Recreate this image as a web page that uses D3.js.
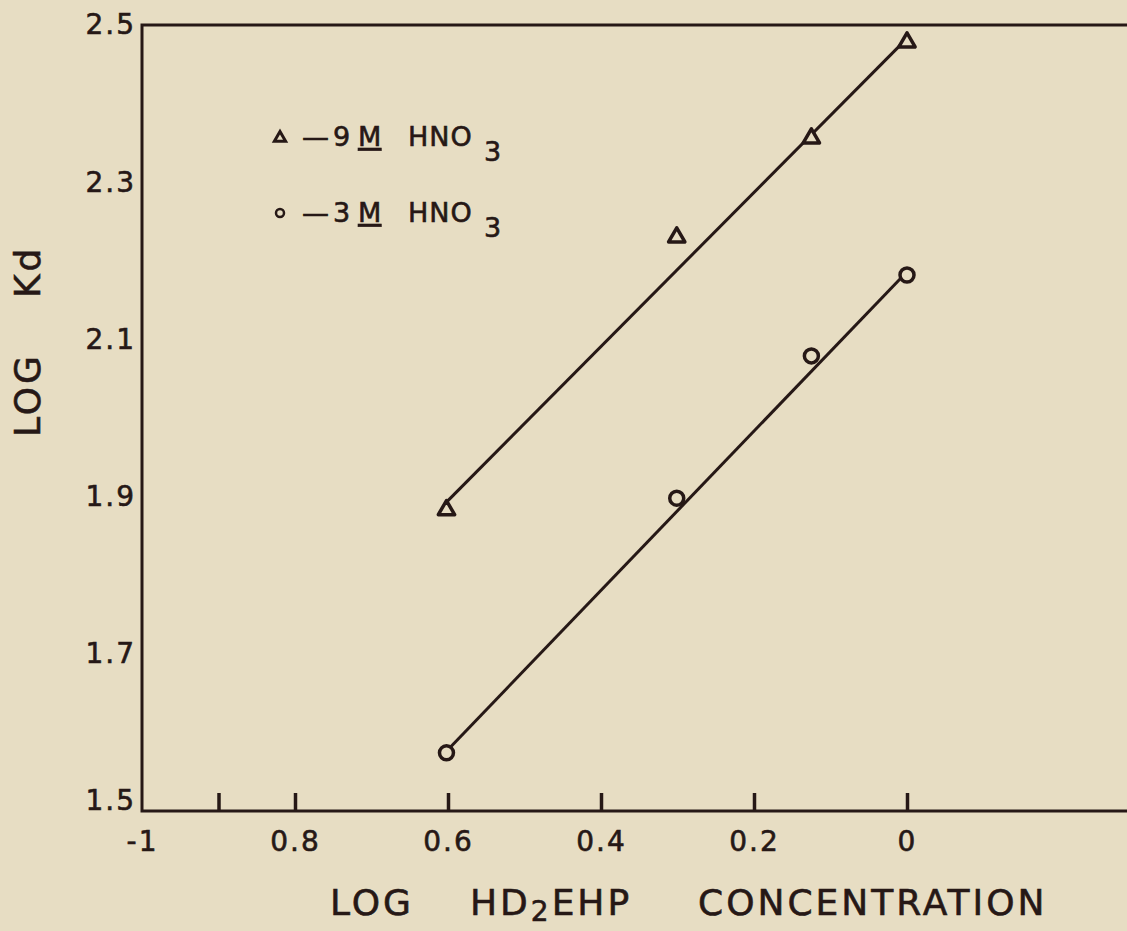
<!DOCTYPE html>
<html>
<head>
<meta charset="utf-8">
<script src="https://cdn.jsdelivr.net/npm/d3@7"></script>
<style>
  body { margin: 0; background: #e7ddc3; }
  text { font-family: "DejaVu Sans", sans-serif; fill: #261816; stroke: #261816; stroke-width: 0.6; }
</style>
</head>
<body>
<script>
const w = 1127;
const h = 931;
const ink = "#261816";
const paper = "#e7ddc3";

// log of HD2EHP concentration (x) and log Kd (y)
const logConc = [-0.602, -0.301, -0.125, 0];
const logKd9M = [1.883, 2.230, 2.356, 2.478];
const logKd3M = [1.574, 1.898, 2.079, 2.182];
// drawn straight lines through each set
const fitX = [-0.602, 0];
const fit9M = [1.893, 2.483];
const fit3M = [1.576, 2.186];

const xTicks = [-1, -0.9, -0.8, -0.6, -0.4, -0.2, 0];
const xTickLabels = ["-1", "", "0.8", "0.6", "0.4", "0.2", "0"];
const yTicks = [1.5, 1.7, 1.9, 2.1, 2.3, 2.5];
const yTickLabels = ["1.5", "1.7", "1.9", "2.1", "2.3", "2.5"];

const xScale = d3.scaleLinear()
                 .domain([-1, 0])
                 .range([142, 907]);

const yScale = d3.scaleLinear()
                 .domain([1.5, 2.5])
                 .range([811, 25]);

const svg = d3.select("body")
              .append("svg")
              .attr("width", w)
              .attr("height", h);

svg.append("rect")
   .attr("width", w)
   .attr("height", h)
   .attr("fill", paper);

// frame: left, bottom and top (right side runs off the page)
const x0 = xScale(-1), xEnd = w + 5;
svg.append("path")
   .attr("d", `M${xEnd},${yScale(2.5)}H${x0}V${yScale(1.5)}H${xEnd}`)
   .attr("fill", "none")
   .attr("stroke", ink)
   .attr("stroke-width", 3);

const xAxis = d3.axisBottom(xScale)
                .tickValues(xTicks)
                .tickSize(-18)
                .tickPadding(20)
                .tickFormat((d, i) => xTickLabels[i]);

const gx = svg.append("g")
   .attr("id", "x-axis")
   .attr("transform", "translate(0," + yScale(1.5) + ")")
   .call(xAxis);
gx.select(".domain").remove();
gx.selectAll(".tick line").attr("stroke", ink).attr("stroke-width", 3.5);
gx.selectAll(".tick").filter(d => d === -1).select("line").remove();
gx.selectAll(".tick text")
  .attr("font-size", 28)
  .attr("letter-spacing", 2)
  .attr("fill", ink)
  .attr("font-family", "DejaVu Sans");

const yAxis = d3.axisLeft(yScale)
                .tickValues(yTicks)
                .tickSize(0)
                .tickPadding(6)
                .tickFormat((d, i) => yTickLabels[i]);

const gy = svg.append("g")
   .attr("id", "y-axis")
   .attr("transform", "translate(" + x0 + ",0)")
   .call(yAxis);
gy.select(".domain").remove();
gy.selectAll(".tick text")
  .attr("font-size", 28)
  .attr("letter-spacing", 2)
  .attr("fill", ink)
  .attr("font-family", "DejaVu Sans");
gy.selectAll(".tick").filter(d => d === 1.5).select("text").attr("dy", "-0.05em");

// fitted lines
const line = d3.line()
               .x(d => xScale(d[0]))
               .y(d => yScale(d[1]));

[fit9M, fit3M].forEach(fit => {
  svg.append("path")
     .attr("d", line(d3.zip(fitX, fit)))
     .attr("fill", "none")
     .attr("stroke", ink)
     .attr("stroke-width", 3);
});

// markers
const tri = d3.symbol().type(d3.symbolTriangle).size(115);

svg.selectAll(".tri")
   .data(d3.zip(logConc, logKd9M))
   .enter()
   .append("path")
   .attr("class", "tri")
   .attr("d", tri)
   .attr("transform", d => `translate(${xScale(d[0])},${yScale(d[1])})`)
   .attr("fill", paper)
   .attr("stroke", ink)
   .attr("stroke-width", 3.5)
   .attr("stroke-linejoin", "round");

svg.selectAll(".circ")
   .data(d3.zip(logConc, logKd3M))
   .enter()
   .append("circle")
   .attr("class", "circ")
   .attr("cx", d => xScale(d[0]))
   .attr("cy", d => yScale(d[1]))
   .attr("r", 7)
   .attr("fill", paper)
   .attr("stroke", ink)
   .attr("stroke-width", 3.5);

// legend
const legend = [
  { sym: "tri", num: "9", y: 137 },
  { sym: "circ", num: "3", y: 213 }
];

legend.forEach(l => {
  if (l.sym === "tri") {
    svg.append("path")
       .attr("d", d3.symbol().type(d3.symbolTriangle).size(55)())
       .attr("transform", `translate(280,${l.y + 1})`)
       .attr("fill", paper)
       .attr("stroke", ink)
       .attr("stroke-width", 3);
  } else {
    svg.append("circle")
       .attr("cx", 280).attr("cy", l.y)
       .attr("r", 4)
       .attr("fill", paper)
       .attr("stroke", ink)
       .attr("stroke-width", 2.5);
  }
  const t = svg.append("text")
     .attr("y", l.y + 9)
     .attr("font-size", 27);
  t.append("tspan").attr("x", 302).text("\u2014");
  t.append("tspan").attr("x", 333).text(l.num);
  t.append("tspan").attr("x", 358).attr("text-decoration", "underline").text("M");
  t.append("tspan").attr("x", 408).attr("letter-spacing", 1).text("HNO");
  t.append("tspan").attr("x", 484).attr("dy", 15).text("3");
});

// axis titles
const yt = svg.append("text")
   .attr("transform", "translate(40,437) rotate(-90)")
   .attr("font-size", 36)
   .attr("letter-spacing", 3);
yt.append("tspan").text("LOG");
yt.append("tspan").attr("dx", 55).text("Kd");

const xt = svg.append("text")
   .attr("y", 915)
   .attr("font-size", 36)
   .attr("letter-spacing", 3);
xt.append("tspan").attr("x", 330).text("LOG");
xt.append("tspan").attr("x", 470).text("HD");
xt.append("tspan").attr("dy", 6).attr("font-size", 28).text("2");
xt.append("tspan").attr("dy", -6).text("EHP");
xt.append("tspan").attr("x", 698).text("CONCENTRATION");
</script>
</body>
</html>
